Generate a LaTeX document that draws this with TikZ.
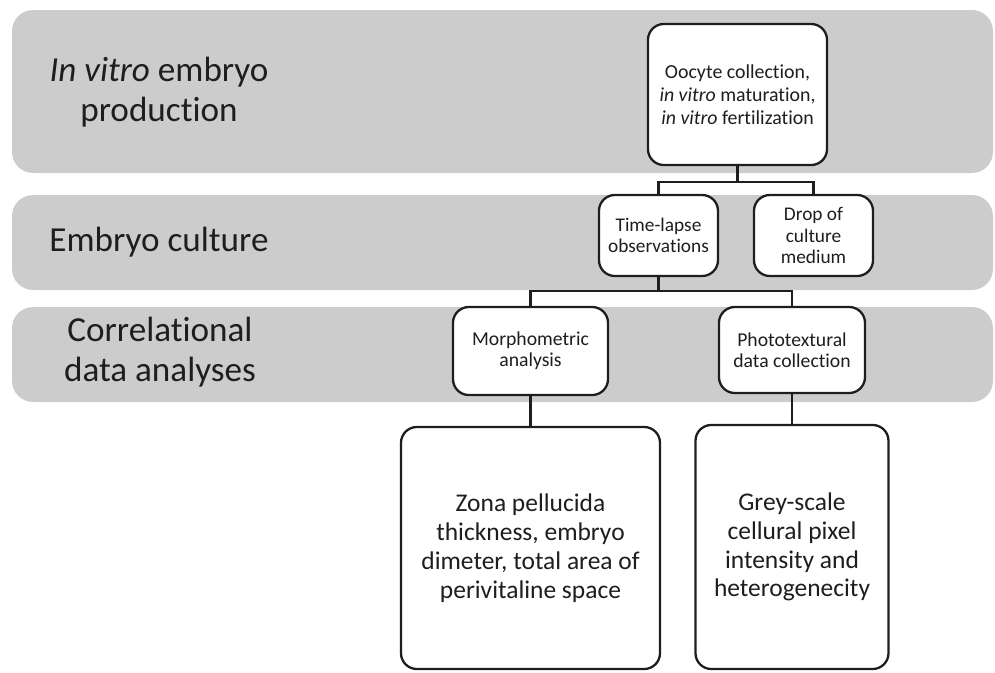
\documentclass[tikz,border=0pt]{standalone}
\usepackage{fontspec}
\setmainfont{Carlito}[Ligatures=NoCommon]
\definecolor{bandgrey}{RGB}{204,204,204}
\definecolor{inkgrey}{RGB}{30,30,30}
\tikzset{
  band/.style={fill=bandgrey, rounded corners=12},
  stagebox/.style={draw=inkgrey, fill=white, line width=1.3pt, rounded corners=9,
    align=center, text=inkgrey, inner sep=2pt},
  link/.style={draw=inkgrey, line width=1.3pt},
  bandlabel/.style={align=center, text=inkgrey, font=\fontsize{20}{22.5}\selectfont}
}
\begin{document}
\begin{tikzpicture}[x=0.2mm,y=-0.2mm]
    \useasboundingbox (0,0) rectangle (995,673);
    % grey bands
    \fill[band] (12,10) rectangle (993,173);
    \fill[band] (12,195) rectangle (993,290);
    \fill[band] (12,307) rectangle (993,402);

    \node[bandlabel] (lab1) at (159,92) {\textit{In vitro} embryo\\production};
    \node[bandlabel] (lab2) at (159,242) {Embryo culture};
    \node[bandlabel] (lab3) at (160,352) {Correlational\\data analyses};

    \node[stagebox, minimum width=35.8mm, minimum height=28.2mm,
      font=\fontsize{11.3}{13}\selectfont] (oocyte) at (737.5,94.5)
      {Oocyte collection,\\\textit{in vitro} maturation,\\\textit{in vitro} fertilization};
    \node[stagebox, minimum width=23.8mm, minimum height=16.2mm,
      font=\fontsize{11}{12}\selectfont] (timelapse) at (658.5,235.5)
      {Time-lapse\\observations};
    \node[stagebox, minimum width=23.8mm, minimum height=16.2mm,
      font=\fontsize{11}{12}\selectfont] (drop) at (813.5,235.5)
      {Drop of\\culture\\medium};
    \node[stagebox, minimum width=31mm, minimum height=17.6mm,
      font=\fontsize{11.2}{12}\selectfont] (morpho) at (530.5,351)
      {Morphometric\\analysis};
    \node[stagebox, minimum width=29.2mm, minimum height=17.2mm,
      font=\fontsize{11.2}{12}\selectfont] (photo) at (792,350)
      {Phototextural\\data collection};
    \node[stagebox, minimum width=51.8mm, minimum height=48.4mm,
      font=\fontsize{14.5}{16.4}\selectfont] (zona) at (530.5,548)
      {Zona pellucida\\thickness, embryo\\dimeter, total area of\\perivitaline space};
    \node[stagebox, minimum width=38.6mm, minimum height=48.8mm,
      font=\fontsize{14.5}{16.4}\selectfont] (grey) at (792,547)
      {Grey-scale\\cellural pixel\\intensity and\\heterogenecity};

    \coordinate (fork1) at (737.5,182);
    \coordinate (fork2) at (658.5,291);
    \draw[link] (oocyte.south) -- (fork1) -| (timelapse.north);
    \draw[link] (fork1) -| (drop.north);
    \draw[link] (timelapse.south) -- (fork2) -| (morpho.north);
    \draw[link] (fork2) -| (photo.north);
    \draw[link] (morpho.south) -- (zona.north);
    \draw[link] (photo.south) -- (grey.north);
\end{tikzpicture}
\end{document}
